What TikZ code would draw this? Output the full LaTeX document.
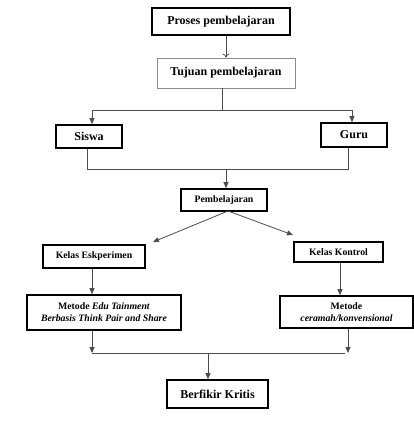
\documentclass[tikz,border=0pt]{standalone}
\usepackage{fontspec}
\setmainfont{Liberation Serif}
\usetikzlibrary{arrows.meta}

\tikzset{
  heavybox/.style={draw, line width=1.6pt, inner sep=0pt, font=\bfseries\fontsize{12}{14}\selectfont},
  lightbox/.style={draw=black!45, line width=0.8pt, inner sep=0pt, font=\bfseries\fontsize{12}{14}\selectfont},
  smallbox/.style={heavybox, font=\bfseries\fontsize{9.8}{13}\selectfont, align=center},
  link/.style={draw=black!70, line width=0.8pt},
  arr/.style={link, -{Triangle[length=6pt,width=5pt]}}
}

\begin{document}
\begin{tikzpicture}[x=1pt, y=-1pt]
\useasboundingbox (0,0) rectangle (414,421);
% boxes
\node[heavybox, minimum width=138pt, minimum height=27pt] (proses) at (221,21.5) {Proses pembelajaran};
\node[lightbox, minimum width=138pt, minimum height=30pt] (tujuan) at (226,73) {Tujuan pembelajaran};
\node[heavybox, minimum width=66pt, minimum height=23pt] (siswa) at (89,136.5) {Siswa};
\node[heavybox, minimum width=66pt, minimum height=24pt] (guru) at (354,135) {Guru};
\node[smallbox, minimum width=86pt, minimum height=22pt] (belajar) at (224,200) {Pembelajaran};
\node[smallbox, minimum width=102pt, minimum height=23pt] (eksp) at (94,256.5) {Kelas Eskperimen};
\node[smallbox, minimum width=89pt, minimum height=20pt] (kontrol) at (338.5,252) {Kelas Kontrol};
\node[smallbox, minimum width=154pt, minimum height=35pt] (metode1) at (104,312.5) {Metode \textit{Edu Tainment}\\[-1pt]\textit{Berbasis Think Pair and Share}};
\node[smallbox, minimum width=133pt, minimum height=32pt] (metode2) at (346.5,312) {Metode\\[-1pt]\textit{ceramah/konvensional}};
\node[heavybox, minimum width=101pt, minimum height=28pt] (kritis) at (217.5,394) {Berfikir Kritis};

% bus points
\coordinate (top bus) at (222,110);
\coordinate (mid bus) at (226,169);
\coordinate (split) at (228,211);
\coordinate (to eksp) at (153,242);
\coordinate (to kontrol) at (293,235);
\coordinate (low left) at (92,353);
\coordinate (low right) at (348,353);
\coordinate (low bus) at (208,353);

% top part
\draw[link, -{To[length=4pt,width=7pt]}] (proses.south -| tujuan) -- (tujuan.north);
\draw[link] (tujuan.south -| top bus) -- (top bus);
\draw[arr] (top bus) -| (siswa.north -| 92,0);
\draw[arr] (top bus) -| (guru.north -| 352,0);
\draw[link] (siswa.south -| 87,0) |- (mid bus);
\draw[link] (guru.south -| low right) |- (mid bus);
\draw[arr] (mid bus) -- (belajar.north -| mid bus);

% split
\draw[arr] (split) -- (to eksp);
\draw[arr] (split) -- (to kontrol);
\draw[arr] (eksp.south -| low left) -- (metode1.north -| low left);
\draw[arr] (kontrol.south -| 340,0) -- (metode2.north -| 340,0);

% bottom part
\draw[arr] (metode1.south -| low left) -- (low left);
\draw[arr] (metode2.south -| low right) -- (low right);
\draw[link] (low left) -- ([xshift=-3pt]low right);
\draw[arr] (low bus) -- (kritis.north -| low bus);
\end{tikzpicture}
\end{document}
